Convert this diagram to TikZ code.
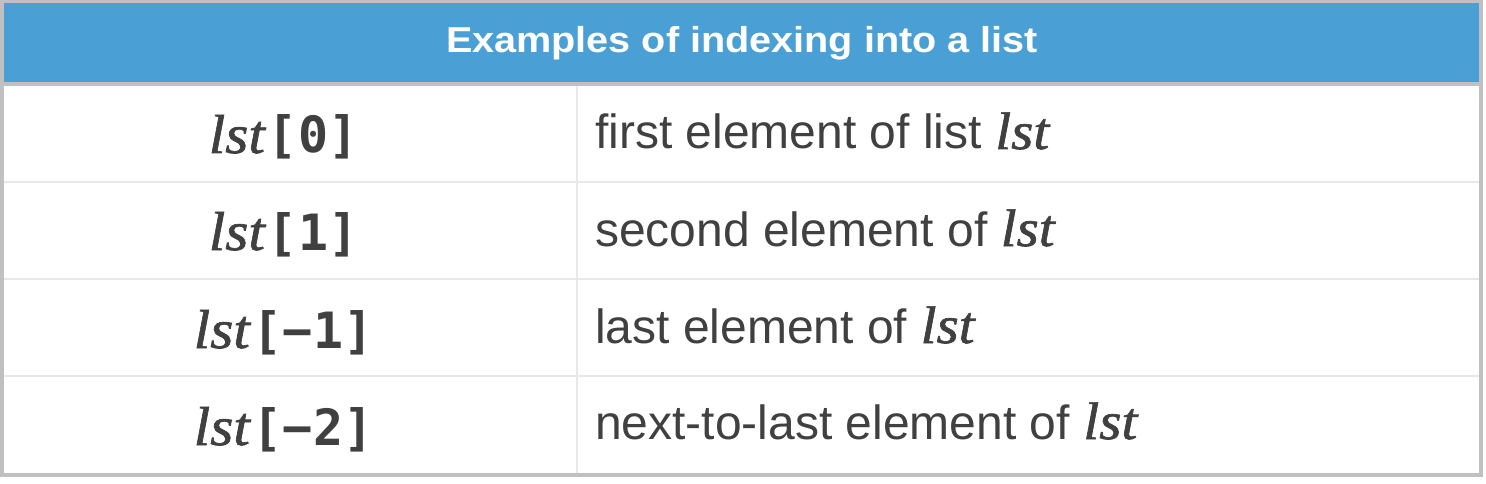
\documentclass[tikz,border=0pt]{standalone}
\usepackage{fontspec}
\setsansfont{Liberation Sans}
\setmonofont{DejaVu Sans Mono}
\newfontfamily\hdrfont[FakeStretch=1.1]{Liberation Sans Bold}
\newfontfamily\lstfont[FakeBold=1.2,Scale=1.1,FakeStretch=1.08]{Liberation Serif Italic}
\definecolor{hdrblue}{RGB}{74,160,213}
\definecolor{bordergray}{RGB}{192,192,192}
\definecolor{rulegray}{RGB}{232,232,232}
\definecolor{txt}{RGB}{64,64,64}
\newcommand{\lstv}{{\lstfont lst}}
\newcommand{\idx}[1]{\lstv\kern3pt{\ttfamily\bfseries[#1]}}
\begin{document}
\begin{tikzpicture}[x=1pt,y=-1pt,
  hdr/.style={anchor=base,inner sep=0pt,text=white,font=\hdrfont\fontsize{36}{42}\selectfont},
  left/.style={anchor=base,inner sep=0pt,text=txt,font=\fontsize{50}{60}\selectfont},
  right/.style={anchor=base west,inner sep=0pt,text=txt,font=\sffamily\fontsize{48}{58}\selectfont},
  rowrule/.style={draw=rulegray,line width=1.2pt}]
\useasboundingbox (0,0) rectangle (1486,484);
\fill[white] (0,0) rectangle (1486,484);
\fill[hdrblue] (4,3) rectangle (1479,82);
\fill[bordergray] (4,82) rectangle (1479,86);
\draw[bordergray,line width=3.5pt] (1.75,1.75) rectangle (1480.75,474.75);
\coordinate (r1l) at (4,182); \coordinate (r1r) at (1479,182);
\coordinate (r2l) at (4,279); \coordinate (r2r) at (1479,279);
\coordinate (r3l) at (4,376); \coordinate (r3r) at (1479,376);
\coordinate (vt) at (577,86); \coordinate (vb) at (577,473);
\draw[rowrule] (r1l) -- (r1r);
\draw[rowrule] (r2l) -- (r2r);
\draw[rowrule] (r3l) -- (r3r);
\draw[rowrule] (vt) -- (vb);
\node[hdr] (title) at (742,53) {Examples of indexing into a list};
\node[left] (a1) at (283.5,153) {\idx{0}};
\node[left] (a2) at (283.5,250) {\idx{1}};
\node[left] (a3) at (283.5,348) {\idx{\textminus1}};
\node[left] (a4) at (283.5,445) {\idx{\textminus2}};
\node[right] (b1) at (595,149) {first element of list \lstv};
\node[right] (b2) at (595,246) {second element of \lstv};
\node[right] (b3) at (595,343) {last element of \lstv};
\node[right] (b4) at (595,439) {next-to-last element of \lstv};
\end{tikzpicture}
\end{document}
